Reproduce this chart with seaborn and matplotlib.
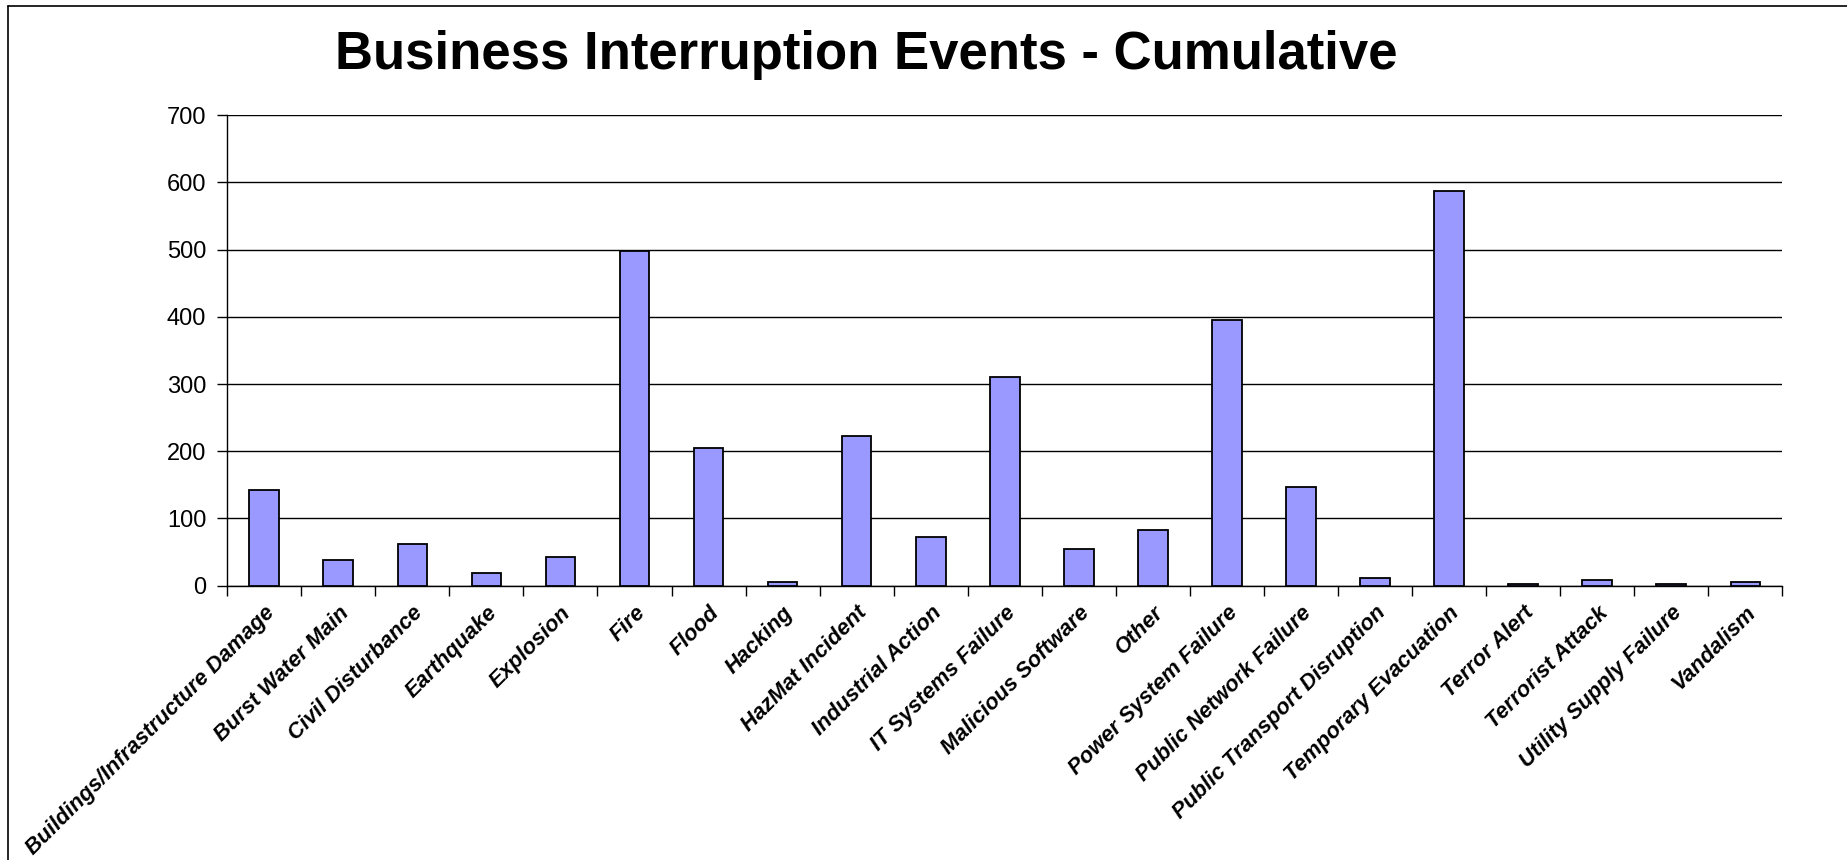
import matplotlib
matplotlib.use('Agg')
import matplotlib.pyplot as plt
import seaborn as sns
import numpy as np
import pandas as pd
from matplotlib.lines import Line2D

# Donnees
categories = [
    'Buildings/Infrastructure Damage', 'Burst Water Main', 'Civil Disturbance',
    'Earthquake', 'Explosion', 'Fire', 'Flood', 'Hacking', 'HazMat Incident',
    'Industrial Action', 'IT Systems Failure', 'Malicious Software', 'Other',
    'Power System Failure', 'Public Network Failure', 'Public Transport Disruption',
    'Temporary Evacuation', 'Terror Alert', 'Terrorist Attack',
    'Utility Supply Failure', 'Vandalism',
]
events = [143, 38, 62, 19, 43, 498, 205, 6, 223, 72, 311,
          54, 83, 396, 147, 11, 587, 2, 8, 2, 5]
y_ticks = [0, 100, 200, 300, 400, 500, 600, 700]

df = pd.DataFrame({'category': categories, 'events': events})

sns.set_theme(style='white')
plt.rcParams['font.family'] = ['Liberation Sans', 'DejaVu Sans']
plt.rcParams['text.color'] = 'black'
plt.rcParams['xtick.color'] = 'black'
plt.rcParams['ytick.color'] = 'black'

fig = plt.figure(figsize=(18.47, 8.6), dpi=100)
ax = fig.add_axes([0.123, 0.319, 0.842, 0.547])

sns.barplot(data=df, x='category', y='events', color='#9999FF',
            saturation=1, width=0.4, edgecolor='black', linewidth=1.3, ax=ax,
            zorder=3)

ax.set_ylim(0, 700)
ax.set_xlim(-0.5, len(categories) - 0.5)
ax.set_yticks(y_ticks)
ax.set_yticklabels([str(v) for v in y_ticks], fontsize=17)
ax.yaxis.grid(True, color='black', linewidth=1, zorder=0)
ax.set_axisbelow(True)

# ticks aux limites des categories (style Excel)
ax.set_xticks(np.arange(-0.5, len(categories), 1.0))
ax.set_xticklabels([])
ax.set_xticks(np.arange(len(categories)), minor=True)
ax.set_xticklabels(categories, minor=True, rotation=45, ha='right',
                   rotation_mode='anchor', fontsize=15.8,
                   fontweight='bold', fontstyle='italic')
ax.tick_params(axis='x', which='major', length=7, width=1, color='black',
               direction='out', bottom=True)
ax.tick_params(axis='x', which='minor', length=0, pad=12)
ax.tick_params(axis='y', length=7, width=1, color='black', direction='out',
               left=True, pad=8)

for side in ['top', 'right']:
    ax.spines[side].set_visible(False)
for side in ['left', 'bottom']:
    ax.spines[side].set_color('black')
    ax.spines[side].set_linewidth(1)

ax.set_xlabel('')
ax.set_ylabel('')

fig.text(0.469, 0.936, 'Business Interruption Events - Cumulative',
         ha='center', va='center', fontsize=38, fontweight='bold', color='black')

# cadre de la figure (gauche + haut)
fig.add_artist(Line2D([0.0045, 0.0045], [0.0, 0.993], color='black', lw=1.2,
                      transform=fig.transFigure))
fig.add_artist(Line2D([0.0045, 1.0], [0.993, 0.993], color='black', lw=1.2,
                      transform=fig.transFigure))

fig.savefig('out.png', dpi=100)
